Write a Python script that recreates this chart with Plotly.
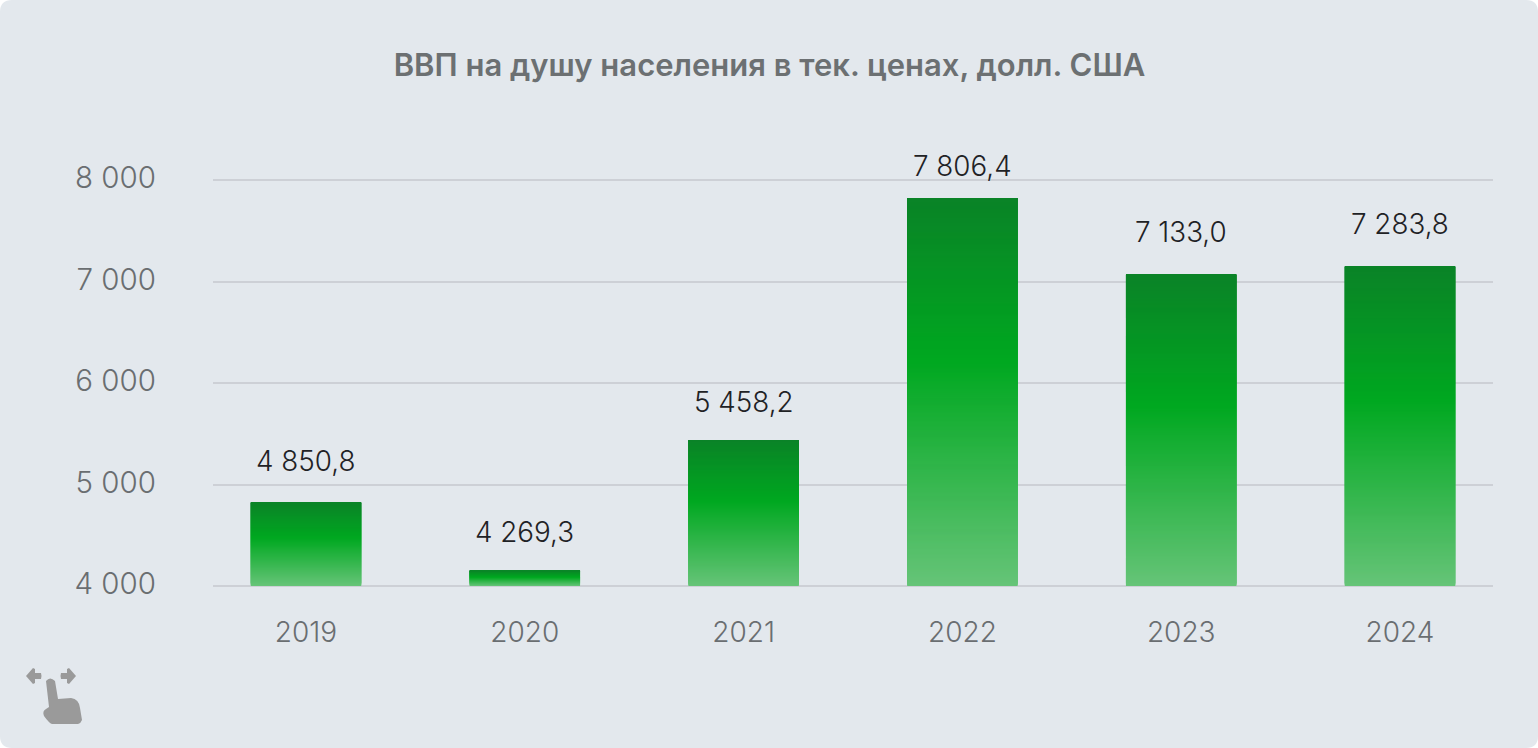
import plotly.graph_objects as go

# --- data ---
years = ["2019", "2020", "2021", "2022", "2023", "2024"]
label_values = [4850.8, 4269.3, 5458.2, 7806.4, 7133.0, 7283.8]   # printed labels
bar_values = [4820, 4150, 5438, 7822, 7066, 7145]                 # drawn heights
y_ticks = [4000, 5000, 6000, 7000, 8000]
title = "ВВП на душу населения в тек. ценах, долл. США"

# --- styling ---
W, H = 1538, 748
L, R, T, B = 213, 1493, 170, 596
FONT = "Inter"
label_lift = [42, 39, 38, 32, 43, 43]
STOPS = [(0.0, (10, 131, 39)), (0.42, (0, 168, 32)), (1.0, (102, 196, 120))]
Y_MIN, Y_MAX = 4000, 8000
PAD = 98.5  # value units above and below the ticks, so the end gridlines show
SLICE = 10  # value units per gradient slice (about one pixel)
OVERLAP = 4  # each slice spans this many slice heights, so no seams appear


def fmt(v, dec=0):
    return f"{v:,.{dec}f}".replace(",", " ").replace(".", ",")


def shade(t):
    for (a, ca), (b, cb) in zip(STOPS, STOPS[1:]):
        if t <= b:
            f = (t - a) / (b - a)
            return "rgb(%d,%d,%d)" % tuple(round(x + (y - x) * f) for x, y in zip(ca, cb))
    return "rgb(%d,%d,%d)" % STOPS[-1][1]


# one bar trace: overlapping layers per column, painted bottom-up, give a vertical gradient
xs, bases, heights, colors = [], [], [], []
for year, value in zip(years, bar_values):
    n = max(1, round((value - Y_MIN) / SLICE))
    step = (value - Y_MIN) / n
    for i in range(n):
        base = Y_MIN + i * step
        xs.append(year)
        bases.append(base)
        heights.append(min(value - base, step * OVERLAP))
        colors.append(shade(1 - (i + 0.5) / n))

fig = go.Figure()
fig.add_trace(go.Bar(x=xs, y=heights, base=bases, width=0.505,
                     marker=dict(color=colors, line=dict(width=0)),
                     hoverinfo="skip", showlegend=False))

for i, (value, text, lift) in enumerate(zip(bar_values, label_values, label_lift)):
    fig.add_annotation(x=i, y=value, text=fmt(text, 1), showarrow=False,
                       yanchor="middle", yshift=lift,
                       font=dict(family=FONT, size=27.8, weight=300, color="#1f2225"))


def px(x):
    return (x - L) / (R - L)


def py(y):
    return (B - y) / (B - T)


def path(points):
    out = []
    for cmd, *coords in points:
        vals = [f"{px(coords[i])},{py(coords[i + 1])}" for i in range(0, len(coords), 2)]
        out.append(cmd + " ".join(vals))
    return " ".join(out) + " Z"


r = 12
panel = path([("M", r, 0), ("L", W - r, 0), ("Q", W, 0, W, r), ("L", W, H - r), ("Q", W, H, W - r, H),
              ("L", r, H), ("Q", 0, H, 0, H - r), ("L", 0, r), ("Q", 0, 0, r, 0)])
ICON = "#9a9a9a"
left_arrow = path([("M", 26, 676), ("L", 33, 668), ("L", 35, 669), ("L", 35, 673), ("L", 41, 673),
                   ("Q", 42, 676, 41, 679), ("L", 35, 679), ("L", 35, 683), ("L", 33, 684)])
right_arrow = path([("M", 76, 676), ("L", 69, 668), ("L", 67, 669), ("L", 67, 673), ("L", 61, 673),
                    ("Q", 60, 676, 61, 679), ("L", 67, 679), ("L", 67, 683), ("L", 69, 684)])
hand = path([("M", 46, 681), ("Q", 50, 676, 55, 681), ("L", 58, 699), ("L", 71, 698),
             ("Q", 79, 699, 80, 708), ("L", 82, 720), ("Q", 81, 723, 78, 724),
             ("L", 52, 724), ("Q", 49, 723, 44, 716), ("Q", 42, 711, 46, 709), ("L", 49, 707)])

fig.update_layout(
    width=W, height=H,
    margin=dict(l=L, r=W - R, t=T, b=H - B, pad=0),
    paper_bgcolor="white", plot_bgcolor="rgba(0,0,0,0)",
    barmode="overlay", showlegend=False,
    font=dict(family=FONT),
    title=dict(text=title, x=769.5 / W, xref="container", xanchor="center",
               y=1 - 65 / H, yref="container", yanchor="middle",
               font=dict(family=FONT, size=31, weight=600, color="#6c7072")),
    xaxis=dict(type="category", categoryorder="array", categoryarray=years,
               range=[-0.425, 5.425], showgrid=False, zeroline=False, showline=False,
               ticks="", ticklabelstandoff=17,
               tickfont=dict(family=FONT, size=28, weight=300, color="#6a6e71")),
    yaxis=dict(range=[Y_MIN - PAD, Y_MAX + PAD], tickvals=y_ticks, ticktext=[fmt(v) for v in y_ticks],
               showgrid=True, gridcolor="#cdd0d6", gridwidth=1.5, zeroline=False, showline=False,
               ticks="", ticklabelstandoff=56, ticklabelshift=-2,
               tickfont=dict(family=FONT, size=29.5, weight=300, color="#6a6e71")),
    shapes=[
        dict(type="path", path=panel, xref="paper", yref="paper", layer="below",
             fillcolor="#e3e8ed", line=dict(width=0)),
        dict(type="path", path=left_arrow, xref="paper", yref="paper", fillcolor=ICON, line=dict(width=0)),
        dict(type="path", path=right_arrow, xref="paper", yref="paper", fillcolor=ICON, line=dict(width=0)),
        dict(type="path", path=hand, xref="paper", yref="paper", fillcolor=ICON, line=dict(width=0)),
    ],
)

fig.write_html("out.html", config={"displayModeBar": False},
               post_script="document.body.style.margin='0';document.body.style.overflow='hidden';")
